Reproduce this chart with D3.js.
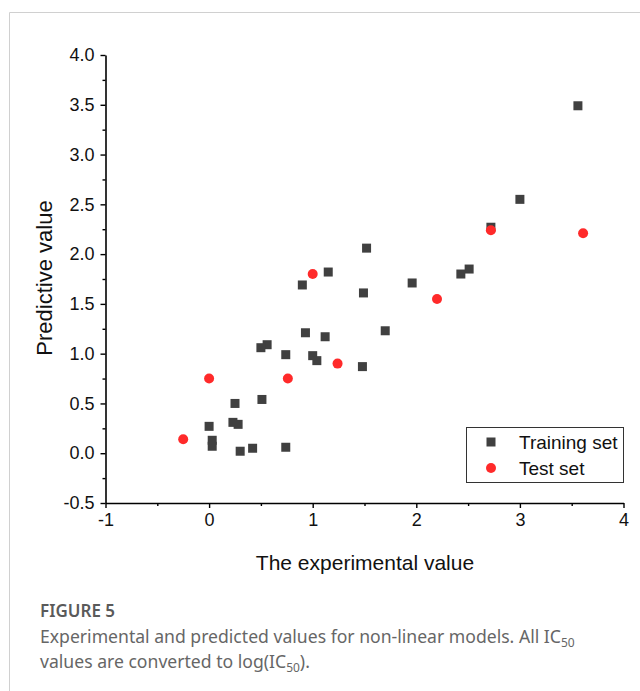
<!DOCTYPE html>
<html>
<head>
<meta charset="utf-8">
<script src="https://cdn.jsdelivr.net/npm/d3@7"></script>
<style>
  html, body { margin: 0; padding: 0; background: #fff; }
  svg { display: block; }
</style>
</head>
<body>
<div id="chart"></div>
<script>
// training set points
const trainX = [0.00, 0.03, 0.03, 0.25, 0.23, 0.28, 0.30, 0.42, 0.51, 0.74,
  1.52, 1.15, 0.90, 1.49, 1.96, 0.93, 1.12, 1.70, 0.56, 0.50,
  0.74, 1.00, 1.04, 1.48, 3.56, 3.00, 2.72, 2.51, 2.43];
const trainY = [0.27, 0.13, 0.07, 0.50, 0.31, 0.29, 0.02, 0.05, 0.54, 0.06,
  2.06, 1.82, 1.69, 1.61, 1.71, 1.21, 1.17, 1.23, 1.09, 1.06,
  0.99, 0.98, 0.93, 0.87, 3.49, 2.55, 2.27, 1.85, 1.80];

// test set points
const testX = [-0.25, 0.00, 0.76, 1.00, 1.24, 2.20, 2.72, 3.61];
const testY = [0.14, 0.75, 0.75, 1.80, 0.90, 1.55, 2.24, 2.21];

const xMajor = [-1, 0, 1, 2, 3, 4];
const xMinor = [-0.5, 0.5, 1.5, 2.5, 3.5];
const yMajor = [-0.5, 0, 0.5, 1, 1.5, 2, 2.5, 3, 3.5, 4];
const yMinor = [-0.25, 0.25, 0.75, 1.25, 1.75, 2.25, 2.75, 3.25, 3.75];

const legendLabels = ["Training set", "Test set"];

const W = 640, H = 691;
const svg = d3.select("#chart").append("svg")
  .attr("width", W).attr("height", H);

// card frame
svg.append("path")
  .attr("d", `M9.5,${H} V12.5 H${W}`)
  .style("fill", "none")
  .style("stroke", "#d0d0d0")
  .style("stroke-width", 1);

const x = d3.scaleLinear().domain([-1, 4]).range([105.5, 623.5]);
const y = d3.scaleLinear().domain([-0.5, 4]).range([503, 55]);

const font = '"Liberation Sans", Arial, sans-serif';
// plain hyphen for negatives, like the original
const fmtX = (d) => String(d);
const fmtY = (d) => d.toFixed(1);

// minor ticks first
svg.append("g")
  .attr("transform", `translate(0,${y(-0.5)})`)
  .call(d3.axisBottom(x).tickValues(xMinor).tickSize(3).tickFormat(""))
  .call((g) => g.select(".domain").remove())
  .selectAll("line").style("stroke", "#000").style("stroke-width", 1.4);

svg.append("g")
  .attr("transform", `translate(${x(-1)},0)`)
  .call(d3.axisLeft(y).tickValues(yMinor).tickSize(3).tickFormat(""))
  .call((g) => g.select(".domain").remove())
  .selectAll("line").style("stroke", "#000").style("stroke-width", 1.4);

const xAxis = svg.append("g")
  .attr("transform", `translate(0,${y(-0.5)})`)
  .call(d3.axisBottom(x).tickValues(xMajor).tickSize(5).tickSizeOuter(0)
    .tickPadding(5).tickFormat(fmtX));
xAxis.select(".domain").style("stroke", "#000").style("stroke-width", 1.6);
xAxis.selectAll("line").style("stroke", "#000").style("stroke-width", 1.4);

const yAxis = svg.append("g")
  .attr("transform", `translate(${x(-1)},0)`)
  .call(d3.axisLeft(y).tickValues(yMajor).tickSize(5).tickSizeOuter(0)
    .tickPadding(6).tickFormat(fmtY));
yAxis.select(".domain").style("stroke", "#000").style("stroke-width", 1.6);
yAxis.selectAll("line").style("stroke", "#000").style("stroke-width", 1.4);

svg.selectAll(".tick text")
  .style("font-family", font)
  .style("font-size", "18px")
  .style("fill", "#111");

// axis titles
svg.append("text")
  .attr("x", 365).attr("y", 570)
  .attr("text-anchor", "middle")
  .style("font-family", font).style("font-size", "21px").style("fill", "#111")
  .text("The experimental value");

svg.append("text")
  .attr("transform", "translate(52,278) rotate(-90)")
  .attr("text-anchor", "middle")
  .style("font-family", font).style("font-size", "22px").style("fill", "#111")
  .text("Predictive value");

// points
const sq = 9;
svg.append("g").selectAll("rect")
  .data(d3.zip(trainX, trainY))
  .enter()
  .append("rect")
  .attr("x", (d) => x(d[0]) - sq / 2)
  .attr("y", (d) => y(d[1]) - sq / 2)
  .attr("width", sq).attr("height", sq)
  .style("fill", "#404040");

svg.append("g").selectAll("circle")
  .data(d3.zip(testX, testY))
  .enter()
  .append("circle")
  .attr("cx", (d) => x(d[0]))
  .attr("cy", (d) => y(d[1]))
  .attr("r", 5)
  .style("fill", "#ff2a2a");

// legend
const lg = svg.append("g");
lg.append("rect")
  .attr("x", 466.5).attr("y", 427.5)
  .attr("width", 157).attr("height", 55)
  .style("fill", "#fff").style("stroke", "#333").style("stroke-width", 1);
lg.append("rect")
  .attr("x", 491 - 4.5).attr("y", 442 - 4.5)
  .attr("width", 9).attr("height", 9)
  .style("fill", "#404040");
lg.append("circle")
  .attr("cx", 491).attr("cy", 468).attr("r", 5)
  .style("fill", "#ff2a2a");
legendLabels.map((t, i) => {
  lg.append("text")
    .attr("x", 519).attr("y", 449 + i * 26)
    .style("font-family", font).style("font-size", "19px").style("fill", "#111")
    .text(t);
});

// caption
const capFont = '"Noto Sans", "Open Sans", sans-serif';
svg.append("text")
  .attr("x", 40).attr("y", 617)
  .style("font-family", capFont).style("font-size", "17px")
  .style("font-weight", 600).style("fill", "#5a5a5a")
  .text("FIGURE 5");

const cap1 = svg.append("text")
  .attr("x", 40).attr("y", 643)
  .style("font-family", capFont).style("font-size", "17.6px")
  .style("fill", "#666");
cap1.append("tspan").text("Experimental and predicted values for non-linear models. All IC");
cap1.append("tspan").attr("dy", 4).style("font-size", "12px").text("50");

const cap2 = svg.append("text")
  .attr("x", 40).attr("y", 668)
  .style("font-family", capFont).style("font-size", "17.6px")
  .style("fill", "#666");
cap2.append("tspan").text("values are converted to log(IC");
cap2.append("tspan").attr("dy", 4).style("font-size", "12px").text("50");
cap2.append("tspan").attr("dy", -4).text(").");
</script>
</body>
</html>
